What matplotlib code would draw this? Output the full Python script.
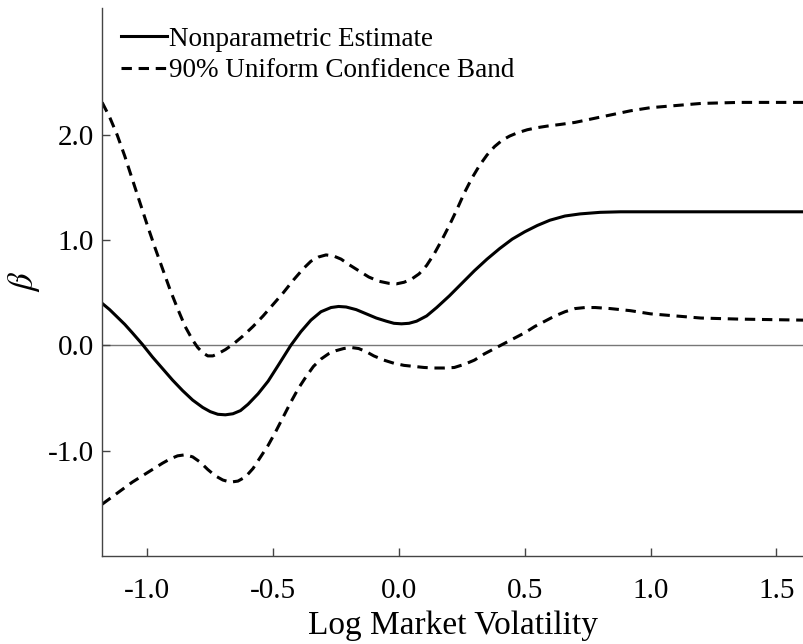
import matplotlib
matplotlib.use('Agg')
import matplotlib.pyplot as plt

plt.rcParams['font.family'] = ['Liberation Serif', 'DejaVu Serif']
plt.rcParams['mathtext.fontset'] = 'stix'

# values
est_x = [-1.18, -1.15, -1.12, -1.09, -1.06, -1.02, -0.98, -0.94, -0.90, -0.86, -0.82,
         -0.78, -0.75, -0.72, -0.69, -0.66, -0.63, -0.60, -0.56, -0.52, -0.48, -0.43,
         -0.39, -0.35, -0.31, -0.27, -0.24, -0.21, -0.17, -0.13, -0.09, -0.05, -0.02,
         0.01, 0.04, 0.07, 0.11, 0.15, 0.20, 0.25, 0.30, 0.35, 0.40, 0.45, 0.50,
         0.55, 0.60, 0.66, 0.72, 0.80, 0.88, 1.0, 1.2, 1.4, 1.61]
est_y = [0.40, 0.34, 0.27, 0.20, 0.12, 0.01, -0.11, -0.22, -0.33, -0.43, -0.52,
         -0.59, -0.63, -0.655, -0.66, -0.65, -0.62, -0.56, -0.46, -0.34, -0.19, 0.00,
         0.13, 0.24, 0.32, 0.36, 0.37, 0.365, 0.34, 0.30, 0.26, 0.23, 0.21,
         0.205, 0.21, 0.23, 0.28, 0.36, 0.47, 0.59, 0.71, 0.82, 0.92, 1.01, 1.08,
         1.14, 1.19, 1.23, 1.25, 1.265, 1.27, 1.27, 1.27, 1.27, 1.27]

up_x = [-1.18, -1.15, -1.12, -1.09, -1.06, -1.03, -1.00, -0.97, -0.94, -0.91, -0.88,
        -0.85, -0.82, -0.80, -0.78, -0.76, -0.74, -0.72, -0.69, -0.66, -0.62, -0.58,
        -0.54, -0.50, -0.46, -0.42, -0.38, -0.35, -0.32, -0.29, -0.26, -0.23, -0.20,
        -0.16, -0.12, -0.08, -0.04, -0.01, 0.02, 0.05, 0.08, 0.11, 0.14, 0.17, 0.20,
        0.23, 0.26, 0.29, 0.32, 0.35, 0.38, 0.41, 0.44, 0.47, 0.51, 0.55, 0.59,
        0.64, 0.70, 0.76, 0.84, 0.92, 1.00, 1.10, 1.20, 1.35, 1.61]
up_y = [2.31, 2.17, 2.00, 1.80, 1.58, 1.36, 1.14, 0.93, 0.73, 0.53, 0.35,
        0.18, 0.05, -0.02, -0.07, -0.10, -0.10, -0.08, -0.04, 0.01, 0.09, 0.18,
        0.28, 0.39, 0.50, 0.62, 0.73, 0.80, 0.84, 0.86, 0.85, 0.82, 0.77,
        0.71, 0.65, 0.61, 0.59, 0.585, 0.60, 0.63, 0.68, 0.76, 0.87, 1.00, 1.14,
        1.29, 1.45, 1.59, 1.71, 1.81, 1.89, 1.95, 1.99, 2.02, 2.05, 2.07, 2.085,
        2.10, 2.12, 2.15, 2.19, 2.23, 2.26, 2.28, 2.30, 2.31, 2.31]

lo_x = [-1.18, -1.14, -1.10, -1.06, -1.02, -0.98, -0.94, -0.91, -0.88, -0.85, -0.82,
        -0.79, -0.76, -0.73, -0.70, -0.67, -0.64, -0.61, -0.58, -0.55, -0.52, -0.49,
        -0.46, -0.43, -0.40, -0.37, -0.34, -0.31, -0.28, -0.25, -0.22, -0.19, -0.16,
        -0.13, -0.10, -0.06, -0.02, 0.02, 0.06, 0.10, 0.14, 0.18, 0.22, 0.26, 0.30,
        0.34, 0.38, 0.42, 0.46, 0.50, 0.54, 0.58, 0.62, 0.66, 0.70, 0.74, 0.78,
        0.84, 0.92, 1.00, 1.10, 1.20, 1.35, 1.61]
lo_y = [-1.51, -1.44, -1.37, -1.30, -1.24, -1.18, -1.12, -1.08, -1.05, -1.04, -1.06,
        -1.11, -1.18, -1.24, -1.28, -1.30, -1.29, -1.25, -1.17, -1.06, -0.95, -0.82,
        -0.68, -0.54, -0.41, -0.30, -0.20, -0.13, -0.08, -0.05, -0.03, -0.02, -0.03,
        -0.06, -0.10, -0.14, -0.17, -0.19, -0.20, -0.21, -0.215, -0.215, -0.21, -0.18, -0.14,
        -0.08, -0.03, 0.02, 0.07, 0.12, 0.18, 0.23, 0.28, 0.32, 0.35, 0.36, 0.36,
        0.35, 0.33, 0.30, 0.28, 0.26, 0.25, 0.24]

fig = plt.figure(figsize=(8.04, 6.44), dpi=100)
ax = fig.add_axes([0.127, 0.137, 0.873, 0.851])

ax.axhline(0, color='#777777', lw=1.0, zorder=1)
ax.plot(est_x, est_y, color='black', lw=2.2, label='Nonparametric Estimate')
ax.plot(up_x, up_y, color='black', lw=2.2, dashes=(3.4, 2.2),
        label='90% Uniform Confidence Band')
ax.plot(lo_x, lo_y, color='black', lw=2.2, dashes=(3.4, 2.2))

ax.set_xlim(-1.18, 1.61)
ax.set_ylim(-2.0, 3.21)
ax.set_xticks([-1.0, -0.5, 0.0, 0.5, 1.0, 1.5])
ax.set_xticklabels(['-1.0', '-0.5', '0.0', '0.5', '1.0', '1.5'])
ax.set_yticks([-1.0, 0.0, 1.0, 2.0])
ax.set_yticklabels(['-1.0', '0.0', '1.0', '2.0'])

ax.spines['top'].set_visible(False)
ax.spines['right'].set_visible(False)
for s in ['left', 'bottom']:
    ax.spines[s].set_color('#444444')
    ax.spines[s].set_linewidth(1.0)
ax.tick_params(direction='in', length=6, width=1, color='#444444', labelsize=21)
ax.tick_params(axis='x', pad=16)
ax.tick_params(axis='y', pad=6)

ax.set_xlabel('Log Market Volatility', fontsize=24, labelpad=5)
ax.set_ylabel(r'$\beta$', fontsize=25, labelpad=4)

ax.legend(loc='upper left', bbox_to_anchor=(0.0, 1.0), frameon=False,
          fontsize=19.5, handlelength=1.7, handletextpad=0.08,
          borderaxespad=0.3, labelspacing=0.25)

fig.savefig('out.png', dpi=100)
